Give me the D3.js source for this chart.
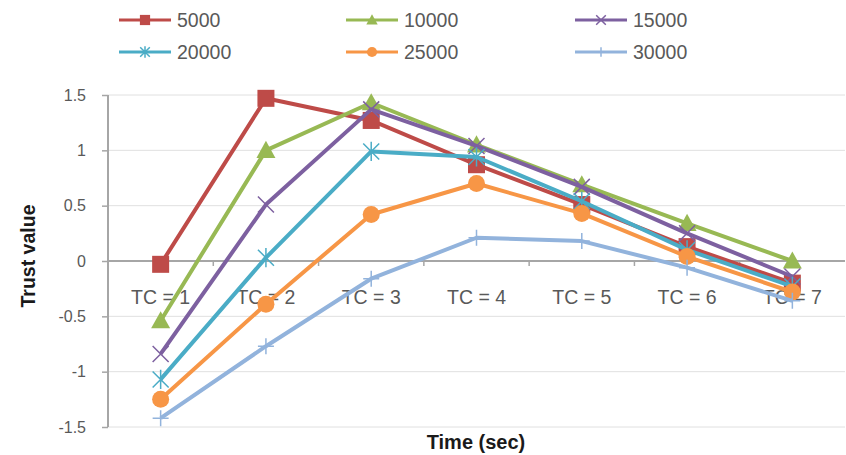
<!DOCTYPE html>
<html>
<head>
<meta charset="utf-8">
<script src="https://cdn.jsdelivr.net/npm/d3@7/dist/d3.min.js"></script>
<style>
  html, body { margin: 0; padding: 0; background: #fff; }
  svg { display: block; font-family: "Liberation Sans", Arial, sans-serif; }
</style>
</head>
<body>
<svg id="chart" width="846" height="455"></svg>
<script>
// Categories along the x axis
const categories = ["TC = 1", "TC = 2", "TC = 3", "TC = 4", "TC = 5", "TC = 6", "TC = 7"];

// Trust value per series
const s5000  = [-0.03, 1.47, 1.27, 0.87, 0.51, 0.13, -0.20];
const s10000 = [-0.54, 1.00, 1.43, 1.05, 0.69, 0.34, 0.00];
const s15000 = [-0.84, 0.51, 1.37, 1.04, 0.67, 0.25, -0.14];
const s20000 = [-1.07, 0.03, 0.99, 0.94, 0.54, 0.10, -0.23];
const s25000 = [-1.25, -0.39, 0.42, 0.70, 0.43, 0.04, -0.28];
const s30000 = [-1.42, -0.77, -0.16, 0.21, 0.18, -0.06, -0.36];

const seriesNames = ["5000", "10000", "15000", "20000", "25000", "30000"];
const yTicks = [1.5, 1, 0.5, 0, -0.5, -1, -1.5];

const series = [
  { name: seriesNames[0], values: s5000,  color: "#be4b48", marker: "square" },
  { name: seriesNames[1], values: s10000, color: "#98b954", marker: "triangle" },
  { name: seriesNames[2], values: s15000, color: "#7d60a0", marker: "cross" },
  { name: seriesNames[3], values: s20000, color: "#4aacc6", marker: "star" },
  { name: seriesNames[4], values: s25000, color: "#f79646", marker: "circle" },
  { name: seriesNames[5], values: s30000, color: "#92b3dc", marker: "plus" }
];

const svg = d3.select("#chart");
const plot = { left: 108, right: 845, top: 95, bottom: 427 };

const x = d3.scaleBand().domain(categories).range([plot.left, plot.right]);
const y = d3.scaleLinear().domain([-1.5, 1.5]).range([plot.bottom, plot.top]);
const cx = c => x(c) + x.bandwidth() / 2;

// Horizontal gridlines
svg.append("g")
  .selectAll("line")
  .data(yTicks)
  .join("line")
  .attr("x1", plot.left).attr("x2", plot.right)
  .attr("y1", d => y(d)).attr("y2", d => y(d))
  .attr("stroke", "#e0e0e0").attr("stroke-width", 1);

// Y axis
const yAxis = svg.append("g")
  .attr("transform", `translate(${plot.left},0)`)
  .call(d3.axisLeft(y).tickValues(yTicks).tickSize(6).tickPadding(16).tickFormat(d3.format("")));
yAxis.select(".domain").attr("stroke", "#a6a6a6").attr("stroke-width", 2)
  .attr("d", `M0,${plot.top}V${plot.bottom}`);
yAxis.selectAll(".tick line").attr("stroke", "#a6a6a6").attr("stroke-width", 1.5);
yAxis.selectAll(".tick text")
  .attr("fill", "#595959").attr("font-size", 16)
  .attr("font-family", "'Liberation Sans', Arial, sans-serif")
  .text(d => d3.format("")(d).replace("−", "-"));

// Zero line acting as the category axis
const zeroY = y(0);
svg.append("line")
  .attr("x1", plot.left).attr("x2", plot.right)
  .attr("y1", zeroY).attr("y2", zeroY)
  .attr("stroke", "#a6a6a6").attr("stroke-width", 2);
svg.append("g")
  .selectAll("line")
  .data(categories.slice(1))
  .join("line")
  .attr("x1", d => x(d)).attr("x2", d => x(d))
  .attr("y1", zeroY).attr("y2", zeroY + 5)
  .attr("stroke", "#a6a6a6").attr("stroke-width", 1.5);

// Category labels beneath the zero line
svg.append("g")
  .selectAll("text")
  .data(categories)
  .join("text")
  .attr("x", d => cx(d))
  .attr("y", zeroY + 43)
  .attr("text-anchor", "middle")
  .attr("fill", "#595959")
  .attr("font-size", 19.5)
  .text(d => d);

// Axis titles
svg.append("text")
  .attr("transform", `translate(35,${256}) rotate(-90)`)
  .attr("text-anchor", "middle")
  .attr("font-weight", "bold").attr("font-size", 19.5).attr("fill", "#1a1a1a")
  .text("Trust value");
svg.append("text")
  .attr("x", 476).attr("y", 449)
  .attr("text-anchor", "middle")
  .attr("font-weight", "bold").attr("font-size", 20).attr("fill", "#1a1a1a")
  .text("Time (sec)");

// Marker shapes
function drawMarker(g, type, color, px, py, scale) {
  const s = scale || 1;
  if (type === "square") {
    const h = 8.5 * s;
    g.append("rect").attr("x", px - h).attr("y", py - h)
      .attr("width", 2 * h).attr("height", 2 * h).attr("fill", color);
  } else if (type === "triangle") {
    const h = 9.5 * s;
    g.append("path")
      .attr("d", `M${px},${py - h}L${px + h},${py + h * 0.8}L${px - h},${py + h * 0.8}Z`)
      .attr("fill", color);
  } else if (type === "circle") {
    g.append("circle").attr("cx", px).attr("cy", py).attr("r", 8.5 * s).attr("fill", color);
  } else if (type === "cross") {
    const h = 8 * s;
    g.append("path")
      .attr("d", `M${px - h},${py - h}L${px + h},${py + h}M${px - h},${py + h}L${px + h},${py - h}`)
      .attr("stroke", color).attr("stroke-width", 1.5).attr("fill", "none");
  } else if (type === "star") {
    const h = 8 * s;
    g.append("path")
      .attr("d", `M${px - h},${py - h}L${px + h},${py + h}M${px - h},${py + h}L${px + h},${py - h}M${px},${py - h * 1.2}L${px},${py + h * 1.2}`)
      .attr("stroke", color).attr("stroke-width", 1.5).attr("fill", "none");
  } else if (type === "plus") {
    const h = 8 * s;
    g.append("path")
      .attr("d", `M${px - h},${py}L${px + h},${py}M${px},${py - h}L${px},${py + h}`)
      .attr("stroke", color).attr("stroke-width", 1.5).attr("fill", "none");
  }
}

// Lines and markers
const line = d3.line()
  .x((d, i) => cx(categories[i]))
  .y(d => y(d));

series.forEach(s => {
  const g = svg.append("g");
  g.append("path")
    .datum(s.values)
    .attr("d", line)
    .attr("fill", "none")
    .attr("stroke", s.color)
    .attr("stroke-width", 4)
    .attr("stroke-linejoin", "round");
  s.values.forEach((v, i) => drawMarker(g, s.marker, s.color, cx(categories[i]), y(v), 1));
});

// Legend, three columns by two rows
const legendCols = [119, 346, 575];
const legendRows = [20, 52];
series.forEach((s, i) => {
  const lx = legendCols[i % 3], ly = legendRows[Math.floor(i / 3)];
  const g = svg.append("g");
  g.append("line").attr("x1", lx).attr("x2", lx + 52)
    .attr("y1", ly).attr("y2", ly)
    .attr("stroke", s.color).attr("stroke-width", 3);
  drawMarker(g, s.marker, s.color, lx + 26, ly, 0.6);
  g.append("text").attr("x", lx + 58).attr("y", ly + 7)
    .attr("fill", "#595959").attr("font-size", 19.5)
    .text(s.name);
});
</script>
</body>
</html>
